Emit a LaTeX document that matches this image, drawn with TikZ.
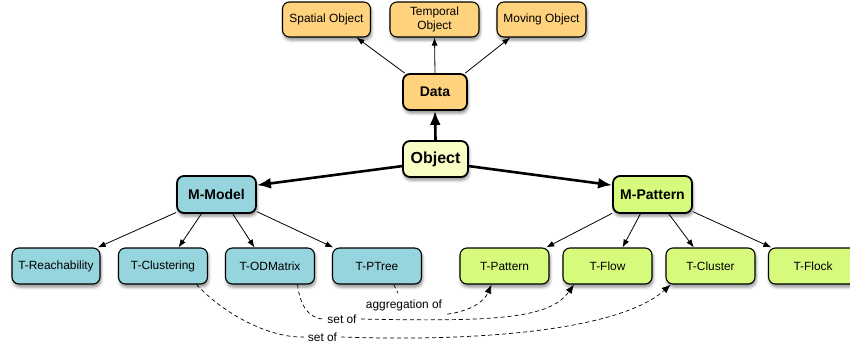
\documentclass[tikz,border=0pt]{standalone}
\usepackage{fontspec}
\setmainfont{Liberation Sans}
\usetikzlibrary{arrows.meta,shadows.blur}
\definecolor{orangefill}{HTML}{FFD27D}
\definecolor{objfill}{HTML}{F8FDC6}
\definecolor{bluefill}{HTML}{96D4DE}
\definecolor{greenfill}{HTML}{D6FA7C}
\begin{document}
\begin{tikzpicture}[x=1pt,y=-1pt,
  box/.style={draw=black, rounded corners=7pt, line width=1.1pt, inner sep=0pt,
    minimum height=36pt, align=center, font=\fontsize{11.9}{14}\selectfont,
    blur shadow={shadow xshift=1pt, shadow yshift=-3pt, shadow blur radius=3pt, shadow opacity=45}},
  bigbox/.style={box, line width=1.8pt, font=\fontsize{14}{16}\selectfont\bfseries},
  thin/.style={line width=0.8pt, -{Latex[length=8pt,width=6pt]}},
  thick/.style={line width=2.6pt, -{Latex[length=14pt,width=11pt]}},
  dashedline/.style={dashed, dash pattern=on 4pt off 3pt, line width=0.7pt},
  lbl/.style={fill=white, inner sep=4pt, font=\fontsize{11.9}{14}\selectfont}
]
\useasboundingbox (0,0) rectangle (850,345);

% top row
\node[box, fill=orangefill, minimum width=88pt, minimum height=35pt] (spatial) at (326.5,19.5) {Spatial Object};
\node[box, fill=orangefill, minimum width=89pt, minimum height=35pt] (temporal) at (434.5,19.5) {Temporal\\Object};
\node[box, fill=orangefill, minimum width=89pt, minimum height=35pt] (moving) at (541.5,19.5) {Moving Object};

\node[bigbox, fill=orangefill, minimum width=64pt] (data) at (435,92) {Data};
\node[bigbox, fill=objfill, minimum width=65pt, font=\fontsize{16}{18}\selectfont\bfseries] (object) at (435.5,159) {Object};

\node[bigbox, fill=bluefill, minimum width=79pt, minimum height=37pt] (mmodel) at (216.5,194.5) {M-Model};
\node[bigbox, fill=greenfill, minimum width=79pt, minimum height=37pt] (mpattern) at (652.5,194.5) {M-Pattern};

% bottom row
\node[box, fill=bluefill, minimum width=88pt] (treach) at (56,266) {T-Reachability};
\node[box, fill=bluefill, minimum width=89pt] (tclust) at (163,266) {T-Clustering};
\node[box, fill=bluefill, minimum width=89pt] (todm) at (270,266) {T-ODMatrix};
\node[box, fill=bluefill, minimum width=89pt] (tptree) at (377,266) {T-PTree};
\node[box, fill=greenfill, minimum width=89pt] (tpattern) at (504.5,266) {T-Pattern};
\node[box, fill=greenfill, minimum width=89pt] (tflow) at (607.5,266) {T-Flow};
\node[box, fill=greenfill, minimum width=89pt] (tcluster) at (710.5,266) {T-Cluster};
\node[box, fill=greenfill, minimum width=89pt] (tflock) at (813,266) {T-Flock};

% data arrows
\draw[thin] (data.148) -- (spatial.-31);
\draw[thin] (data.north) -- (temporal.south);
\draw[thin] (data.32) -- (moving.210);

% object arrows
\draw[thick] (object.north) -- (data.south);
\draw[thick] (object.192) -- (mmodel.13);
\draw[thick] (object.-12) -- (mpattern.167);

% model arrows
\draw[thin] (mmodel.204) -- (treach.24);
\draw[thin] (mmodel.232) -- (tclust.50);
\draw[thin] (mmodel.310) -- (todm.130);
\draw[thin] (mmodel.337) -- (tptree.157);

% pattern arrows
\draw[thin] (mpattern.205) -- (tpattern.24);
\draw[thin] (mpattern.238) -- (tflow.51);
\draw[thin] (mpattern.310) -- (tcluster.132);
\draw[thin] (mpattern.337) -- (tflock.156);

% dashed relations
\node[lbl, inner xsep=5pt, inner ysep=6pt] (agg) at (404,305) {aggregation of};
\node[lbl] (set1) at (342,319) {set of};
\node[lbl] (set2) at (322.5,337) {set of};

\draw[dashedline] (tptree.-48) -- (agg);
\draw[dashedline, -{Latex[length=9pt,width=7pt]}] (agg.-12) .. controls (470,311) and (484,302) .. (tpattern.235);

\draw[dashedline] (todm.-34) .. controls (300,305) and (308,318) .. (set1.west);
\draw[dashedline, -{Latex[length=9pt,width=7pt]}] (set1.east) .. controls (500,322) and (550,318) .. (tflow.209);

\draw[dashedline] (tclust.-29) .. controls (225,315) and (270,338) .. (set2.west);
\draw[dashedline, -{Latex[length=9pt,width=7pt]}] (set2.east) .. controls (480,342) and (620,330) .. (tcluster.205);
\end{tikzpicture}
\end{document}
